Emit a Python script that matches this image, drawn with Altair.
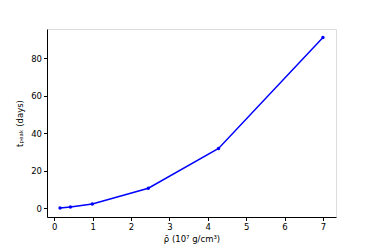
import altair as alt
import pandas as pd

rho = [0.15, 0.42, 0.99, 2.45, 4.28, 7.0]
tpeak = [0.3, 0.8, 2.4, 10.8, 32.0, 91.2]

df = pd.DataFrame({"rho": rho, "tpeak": tpeak})

x = alt.X("rho:Q", scale=alt.Scale(domain=[-0.19, 7.34], nice=False, zero=False),
          axis=alt.Axis(title="ρ̄ (10⁷ g/cm³)", values=[0, 1, 2, 3, 4, 5, 6, 7], format="d",
                        grid=False, tickColor="black", domainColor="black", labelColor="black",
                        titleColor="black", labelFontSize=8.5, titleFontSize=8.5, titleFontWeight="normal",
                        tickSize=3.5, labelPadding=2, titlePadding=3, titleFont="DejaVu Sans", labelFont="DejaVu Sans"))
y = alt.Y("tpeak:Q", scale=alt.Scale(domain=[-4.55, 95.7], nice=False, zero=False),
          axis=alt.Axis(title="tₚₑₐₖ (days)", values=[0, 20, 40, 60, 80], grid=False,
                        tickColor="black", domainColor="black", labelColor="black", titleColor="black",
                        labelFontSize=8.5, titleFontSize=8.5, titleFontWeight="normal", tickSize=3.5,
                        labelPadding=2, titlePadding=6, titleFont="DejaVu Sans", labelFont="DejaVu Sans"))

line = alt.Chart(df).mark_line(color="#0000ff", strokeWidth=1.5).encode(x=x, y=y)
pts = alt.Chart(df).mark_circle(color="#0000ff", size=12, opacity=1).encode(x=x, y=y)

chart = (line + pts).properties(
    width=289, height=188,
    autosize=alt.AutoSizeParams(type="none"),
    padding={"left": 39, "top": 21, "right": 30, "bottom": 30},
).configure_view(stroke="black", strokeWidth=1).configure(background="white")

chart.save("out.html", embed_options={"renderer": "svg", "actions": False})
